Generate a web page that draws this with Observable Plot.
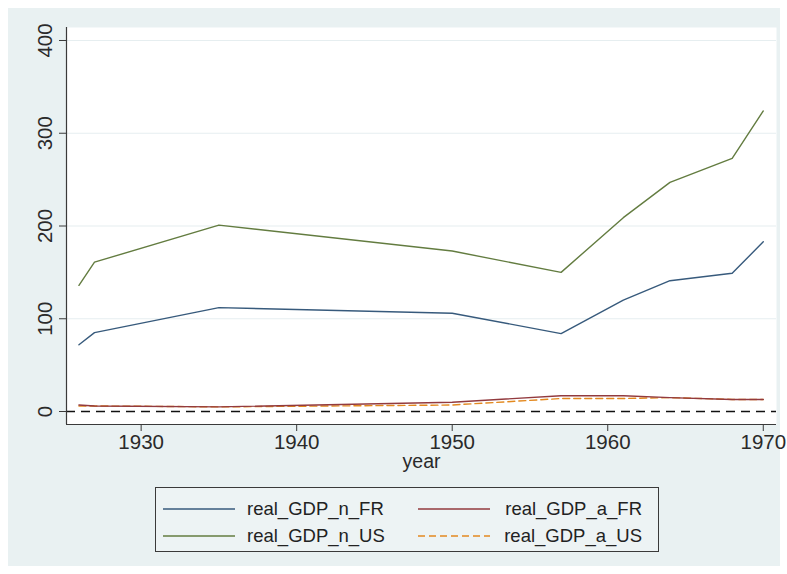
<!DOCTYPE html>
<html>
<head>
<meta charset="utf-8">
<script src="https://cdn.jsdelivr.net/npm/d3@7"></script>
<script src="https://cdn.jsdelivr.net/npm/@observablehq/plot@0.6"></script>
<style>
  html, body { margin: 0; padding: 0; background: #ffffff; }
  #wrap { position: relative; width: 787px; height: 574px; font-family: "Liberation Sans", Arial, sans-serif; }
  #panel { position: absolute; left: 8px; top: 8px; width: 772px; height: 558px; background: #e9f1f2; }
  #chart { position: absolute; left: 0; top: 0; }
  #legend { position: absolute; left: 155px; top: 487px; width: 504px; height: 65px; border: 1px solid #3a3a3a; background: #edf3f4; box-sizing: border-box; }
  .item { position: absolute; font-size: 18.5px; color: #222; line-height: 20px; white-space: nowrap; }
  .key { position: absolute; }
</style>
</head>
<body>
<div id="wrap">
  <div id="panel"></div>
  <div id="chart"></div>
  <div id="legend"></div>
</div>
<script>
const years = [1926, 1927, 1935, 1950, 1957, 1961, 1964, 1968, 1970];
const real_GDP_n_FR = [72, 85, 112, 106, 84, 120, 141, 149, 183];
const real_GDP_n_US = [136, 161, 201, 173, 150, 209, 247, 273, 324];
const real_GDP_a_FR = [7, 6, 5, 10, 17, 17, 15, 13, 13];
const real_GDP_a_US = [6, 6, 5, 7, 14, 14, 15, 13, 13];
const xTicks = [1930, 1940, 1950, 1960, 1970];
const yTicks = [0, 100, 200, 300, 400];

const seriesNames = ["real_GDP_n_FR", "real_GDP_a_FR", "real_GDP_n_US", "real_GDP_a_US"];
const seriesValues = {real_GDP_n_FR, real_GDP_a_FR, real_GDP_n_US, real_GDP_a_US};
const colors = {real_GDP_n_FR: "#375a7c", real_GDP_a_FR: "#923a3e", real_GDP_n_US: "#637c40", real_GDP_a_US: "#e3891f"};
const dashes = {real_GDP_n_FR: null, real_GDP_a_FR: null, real_GDP_n_US: null, real_GDP_a_US: "7,4"};

const xDomain = [1925.2, 1970.85];
const yDomain = [-14, 414];

const lineMarks = [];
for (const name of ["real_GDP_n_FR", "real_GDP_n_US", "real_GDP_a_US", "real_GDP_a_FR"]) {
  const data = years.map((y, i) => ({year: y, value: seriesValues[name][i]}));
  lineMarks.push(Plot.line(data, {x: "year", y: "value", stroke: colors[name], strokeWidth: 1.4, strokeDasharray: dashes[name]}));
}

const plot = Plot.plot({
  width: 787,
  height: 480,
  marginLeft: 66,
  marginRight: 11,
  marginTop: 27,
  marginBottom: 56,
  style: {background: "transparent", fontFamily: "'Liberation Sans', Arial, sans-serif", fontSize: "20px", color: "#2a2a2a"},
  x: {domain: xDomain, ticks: xTicks, tickFormat: d => String(d), label: null},
  y: {domain: yDomain, ticks: yTicks, label: null},
  marks: [
    Plot.frame({fill: "white", stroke: "none"}),
    Plot.ruleY(yTicks.filter(d => d > 0), {stroke: "#e6eef0", strokeWidth: 1.2}),
    Plot.ruleY([0], {stroke: "#111", strokeWidth: 1.4, strokeDasharray: "9,6"}),
    ...lineMarks,
    Plot.ruleX([xDomain[0]], {stroke: "#3a3a3a", strokeWidth: 1.2}),
    Plot.ruleY([yDomain[0]], {stroke: "#3a3a3a", strokeWidth: 1.2}),
    Plot.axisX({ticks: xTicks, tickFormat: d => String(d), tickSize: 7, tickPadding: 3, fontSize: 20.5, stroke: "#3a3a3a", label: null}),
    Plot.axisY({ticks: yTicks, tickSize: 7, tickPadding: 8, tickRotate: -90, fontSize: 20.5, stroke: "#3a3a3a", label: null}),
    Plot.text(["year"], {x: (xDomain[0] + xDomain[1]) / 2, y: yDomain[0], frameAnchor: "bottom", dy: 43, text: d => d, fontSize: 19.5, fill: "#2a2a2a"})
  ]
});
document.getElementById("chart").appendChild(plot);

// legend
const legend = document.getElementById("legend");
const layout = [
  {name: "real_GDP_n_FR", row: 0, col: 0},
  {name: "real_GDP_a_FR", row: 0, col: 1},
  {name: "real_GDP_n_US", row: 1, col: 0},
  {name: "real_GDP_a_US", row: 1, col: 1}
];
for (const {name, row, col} of layout) {
  const top = row === 0 ? 11 : 38;
  const keyLeft = col === 0 ? 7 : 262;
  const svgNS = "http://www.w3.org/2000/svg";
  const svg = document.createElementNS(svgNS, "svg");
  svg.setAttribute("width", 72);
  svg.setAttribute("height", 10);
  svg.setAttribute("class", "key");
  svg.style.left = keyLeft + "px";
  svg.style.top = (top + 5) + "px";
  const ln = document.createElementNS(svgNS, "line");
  ln.setAttribute("x1", 0); ln.setAttribute("x2", 72);
  ln.setAttribute("y1", 5); ln.setAttribute("y2", 5);
  ln.setAttribute("stroke", colors[name]);
  ln.setAttribute("stroke-width", 1.4);
  if (dashes[name]) ln.setAttribute("stroke-dasharray", dashes[name]);
  svg.appendChild(ln);
  legend.appendChild(svg);
  const t = document.createElement("div");
  t.className = "item";
  t.textContent = name;
  t.style.top = (top) + "px";
  if (col === 0) { t.style.left = "91px"; }
  else { t.style.right = "16px"; }
  legend.appendChild(t);
}
</script>
</body>
</html>
